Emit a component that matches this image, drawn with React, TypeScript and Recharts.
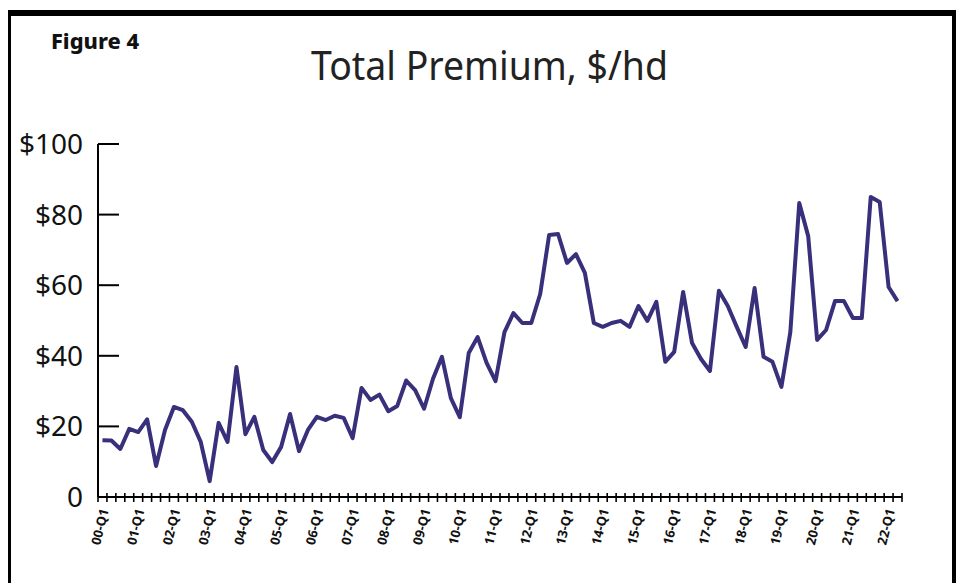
import { LineChart, Line, XAxis, YAxis } from 'recharts';

const years = ['00', '01', '02', '03', '04', '05', '06', '07', '08', '09', '10', '11', '12', '13', '14', '15', '16', '17', '18', '19', '20', '21', '22'];
const quarterNames = ['Q1', 'Q2', 'Q3', 'Q4'];
const quarters = years.flatMap((y) => quarterNames.map((q) => `${y}-${q}`)).slice(0, 90);

// Total premium, $/hd, 00-Q1 .. 22-Q2
const premium = [
  16.1, 16.0, 13.6, 19.3, 18.4, 22.0, 8.8, 19.0, 25.5, 24.6,
  21.3, 15.6, 4.5, 21.0, 15.6, 36.8, 17.8, 22.7, 13.3, 9.9,
  14.2, 23.5, 13.0, 19.0, 22.7, 21.8, 23.0, 22.4, 16.7, 30.9,
  27.5, 29.0, 24.3, 25.8, 33.0, 30.3, 25.0, 33.5, 39.7, 28.0,
  22.6, 40.8, 45.3, 38.0, 32.8, 46.7, 52.1, 49.3, 49.3, 57.5,
  74.2, 74.5, 66.3, 68.8, 63.5, 49.3, 48.2, 49.3, 49.9, 48.2,
  54.1, 49.9, 55.3, 38.3, 41.1, 58.1, 43.6, 39.1, 35.7, 58.4,
  54.1, 48.2, 42.5, 59.2, 39.7, 38.3, 31.2, 46.7, 83.3, 73.9,
  44.5, 47.3, 55.5, 55.5, 50.7, 50.7, 85.0, 83.6, 59.5, 55.5,
];

const yTicks = [0, 20, 40, 60, 80, 100];

const data = premium.map((v, i) => ({ idx: i, quarter: quarters[i], premium: v }));

// tick marks sit on the quarter boundaries, labels on every Q1
const boundaryTicks = quarters.map((_, i) => i - 0.5).concat([quarters.length - 0.5]);
const labelTicks = quarters.map((q, i) => (q.endsWith('Q1') ? i : -1)).filter((i) => i >= 0);
const xTicks = [...boundaryTicks, ...labelTicks].sort((a, b) => a - b);

const FONT = '"Noto Sans", "Open Sans", sans-serif';

function XTick(props: any) {
  const { x, y, payload } = props;
  const v = payload.value as number;
  if (!Number.isInteger(v)) {
    return <line x1={x} x2={x} y1={y - 4} y2={y + 5} stroke="#000" strokeWidth={1.6} />;
  }
  const ax = x + 2;
  const ay = y + 12;
  return (
    <text
      x={ax}
      y={ay}
      transform={`rotate(-76 ${ax} ${ay})`}
      textAnchor="end"
      dy="0.35em"
      fontFamily={FONT}
      fontWeight={700}
      fontSize={13}
      fill="#111"
    >
      {quarters[v]}
    </text>
  );
}

function YTick(props: any) {
  const { x, y, payload } = props;
  const v = payload.value as number;
  return (
    <g>
      {v !== 0 && <line x1={x} x2={x + 21} y1={y} y2={y} stroke="#000" strokeWidth={2} />}
      <text x={x - 15} y={y + 10} textAnchor="end" fontFamily={FONT} fontSize={28} fill="#111">
        {v === 0 ? '0' : `$${v}`}
      </text>
    </g>
  );
}

export default function App() {
  return (
    <div style={{ position: 'absolute', left: 0, top: 0, width: 961, height: 583, background: '#fff' }}>
      <LineChart
        width={961}
        height={583}
        data={data}
        margin={{ top: 144, right: 59, left: 0, bottom: 0 }}
      >
        <XAxis
          dataKey="idx"
          type="number"
          domain={[-0.5, 89.5]}
          ticks={xTicks}
          interval={0}
          height={86}
          tickLine={false}
          tickSize={0}
          tickMargin={0}
          axisLine={{ stroke: '#000', strokeWidth: 2 }}
          tick={<XTick />}
          allowDataOverflow
        />
        <YAxis
          domain={[0, 100]}
          ticks={yTicks}
          interval={0}
          width={98}
          tickLine={false}
          tickSize={0}
          tickMargin={0}
          axisLine={{ stroke: '#000', strokeWidth: 2 }}
          tick={<YTick />}
        />
        <Line
          type="linear"
          dataKey="premium"
          stroke="#38307a"
          strokeWidth={4}
          strokeLinejoin="round"
          dot={false}
          isAnimationActive={false}
        />
      </LineChart>
      <svg
        width={961}
        height={583}
        style={{ position: 'absolute', left: 0, top: 0, pointerEvents: 'none' }}
      >
        <rect x={8} y={10} width={948} height={6} fill="#000" />
        <rect x={8} y={10} width={3} height={573} fill="#000" />
        <rect x={952} y={10} width={4} height={573} fill="#000" />
        <text
          x={51}
          y={49}
          fontFamily={FONT}
          fontWeight={800}
          fontSize={22}
          textLength={88}
          lengthAdjust="spacingAndGlyphs"
          fill="#111"
        >
          Figure 4
        </text>
        <text
          x={311}
          y={80}
          fontFamily={FONT}
          fontSize={40}
          textLength={357}
          lengthAdjust="spacingAndGlyphs"
          fill="#222"
        >
          Total Premium, $/hd
        </text>
      </svg>
    </div>
  );
}
